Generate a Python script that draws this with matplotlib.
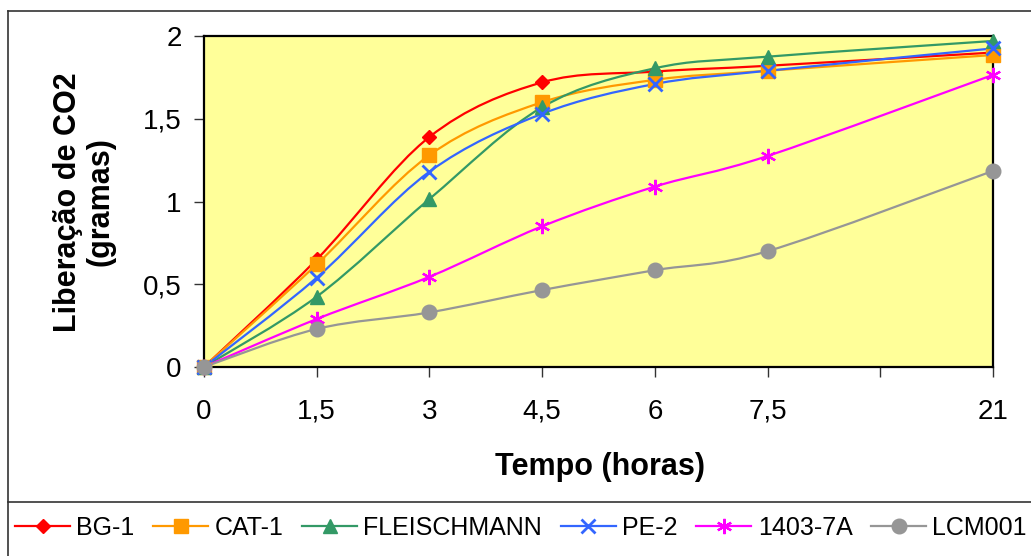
import matplotlib
matplotlib.use("Agg")
import matplotlib.pyplot as plt
from matplotlib.path import Path
from matplotlib.patches import PathPatch
from matplotlib.lines import Line2D
import numpy as np

plt.rcParams['font.family'] = ['Liberation Sans', 'DejaVu Sans']

# ---- data ----
tick_labels = ['0', '1,5', '3', '4,5', '6', '7,5', '', '21']
times = ['0', '1,5', '3', '4,5', '6', '7,5', '21']
series_names = ['BG-1', 'CAT-1', 'FLEISCHMANN', 'PE-2', '1403-7A', 'LCM001']
bg1 = [0.0, 0.65, 1.39, 1.72, 1.785, 1.82, 1.90]
cat1 = [0.0, 0.62, 1.28, 1.60, 1.735, 1.79, 1.885]
fleischmann = [0.0, 0.425, 1.015, 1.57, 1.805, 1.875, 1.97]
pe2 = [0.0, 0.54, 1.18, 1.53, 1.71, 1.79, 1.925]
a1403 = [0.0, 0.29, 0.545, 0.85, 1.09, 1.275, 1.765]
lcm001 = [0.0, 0.23, 0.33, 0.465, 0.585, 0.70, 1.185]
y_ticks = [0, 0.5, 1, 1.5, 2]
y_tick_labels = ['0', '0,5', '1', '1,5', '2']

values = [bg1, cat1, fleischmann, pe2, a1403, lcm001]
colors = ['#FF0000', '#FF9900', '#339966', '#3366FF', '#FF00FF', '#969696']
markers = ['D', 's', '^', 'x', (6, 2, 0), 'o']
msizes = [7.6, 10, 10, 10, 11, 10.5]

W, H = 1031, 556
fig = plt.figure(figsize=(W / 100, H / 100), dpi=100)
fig.patch.set_facecolor('white')

L, R, T, B = 204, 993, 36, 367
ax = fig.add_axes([L / W, (H - B) / H, (R - L) / W, (B - T) / H])
ax.set_facecolor('#FFFF99')

xpos = [tick_labels.index(t) for t in times]


def smooth_path(x, y):
    pts = np.column_stack([x, y]).astype(float)
    n = len(pts)
    verts = [pts[0]]
    codes = [Path.MOVETO]
    for i in range(n - 1):
        p0 = pts[i - 1] if i > 0 else pts[i]
        p1 = pts[i]
        p2 = pts[i + 1]
        p3 = pts[i + 2] if i + 2 < n else pts[i + 1]
        c1 = p1 + (p2 - p0) / 6.0
        c2 = p2 - (p3 - p1) / 6.0
        verts += [c1, c2, p2]
        codes += [Path.CURVE4] * 3
    return Path(verts, codes)


handles = []
for name, vals, c, m, ms in zip(series_names, values, colors, markers, msizes):
    patch = PathPatch(smooth_path(xpos, vals), facecolor='none', edgecolor=c,
                      lw=1.6, zorder=3, clip_on=False)
    ax.add_patch(patch)
    mew = 2.0 if m == 'x' else (1.6 if isinstance(m, tuple) else 1.0)
    ax.plot(xpos, vals, linestyle='none', marker=m, color=c, markersize=ms,
            markeredgewidth=mew, markeredgecolor=c, zorder=4, clip_on=False)
    handles.append(Line2D([], [], color=c, lw=1.6, marker=m, markersize=ms,
                          markeredgewidth=mew, markeredgecolor=c, markerfacecolor=c))

ax.set_xlim(0, len(tick_labels) - 1)
ax.set_ylim(0, 2)
ax.set_xticks(range(len(tick_labels)))
ax.set_xticklabels(tick_labels)
ax.set_yticks(y_ticks)
ax.set_yticklabels(y_tick_labels)
ax.tick_params(axis='both', direction='out', length=7, width=1, color='#333333',
               labelsize=20)
ax.tick_params(axis='x', pad=16)
ax.tick_params(axis='y', pad=9)
for s in ax.spines.values():
    s.set_linewidth(1.6)
    s.set_color('black')

fig.text(84 / W, 1 - 202 / H, 'Liberação de CO2\n(gramas)', rotation=90,
         ha='center', va='center', fontsize=22, fontweight='bold',
         linespacing=1.1, multialignment='center')
fig.text(600 / W, 1 - 467 / H, 'Tempo (horas)', ha='center', va='center',
         fontsize=22, fontweight='bold')

# outer chart frame
tr = fig.transFigure
fig.add_artist(Line2D([8 / W, 8 / W], [0, 1 - 11 / H], transform=tr, color='#333333', lw=1.2))
fig.add_artist(Line2D([8 / W, 1], [1 - 11 / H, 1 - 11 / H], transform=tr, color='#333333', lw=1.2))
fig.add_artist(Line2D([8 / W, 1], [1 - 502 / H, 1 - 502 / H], transform=tr, color='#333333', lw=1.2))

fig.legend(handles, series_names, loc='center left', bbox_to_anchor=(15 / W, 1 - 528 / H),
           ncol=6, frameon=False, fontsize=18, handlelength=2.2, handletextpad=0.25,
           columnspacing=0.75, borderpad=0, borderaxespad=0)

fig.savefig('out.png', dpi=100)
